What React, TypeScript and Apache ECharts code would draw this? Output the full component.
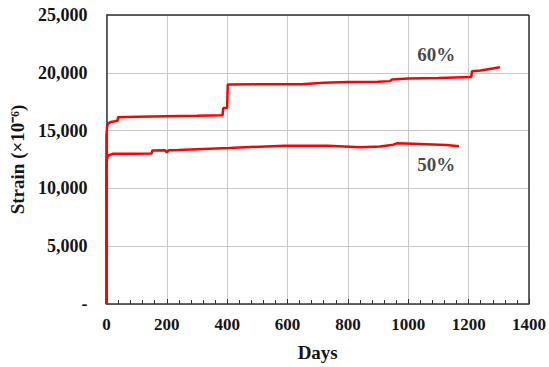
import React, { useEffect, useRef } from "react";
import * as echarts from "echarts";

const xTicks = [0, 200, 400, 600, 800, 1000, 1200, 1400];
const yTicks = [0, 5000, 10000, 15000, 20000, 25000];

const series60: [number, number][] = [
  [0, 0], [0, 14500], [2, 15300], [5, 15600], [15, 15750], [30, 15820], [37, 15850],
  [38, 16150], [100, 16200], [200, 16250], [300, 16280], [385, 16330], [387, 16950],
  [400, 16980], [402, 18980], [500, 19000], [646, 19020], [720, 19130], [800, 19200],
  [900, 19220], [940, 19280], [946, 19430], [1000, 19500], [1100, 19560], [1209, 19640],
  [1211, 20140], [1240, 20200], [1304, 20480],
];

const series50: [number, number][] = [
  [0, 0], [0, 12000], [3, 12700], [8, 12850], [20, 12990], [100, 13000], [150, 13020],
  [152, 13280], [195, 13300], [200, 13100], [206, 13300], [238, 13330], [407, 13500],
  [591, 13700], [733, 13680], [842, 13560], [907, 13615], [950, 13785], [962, 13900],
  [1016, 13860], [1126, 13757], [1168, 13644],
];

const labels = [
  { text: "60%", x: 1093, y: 21600 },
  { text: "50%", x: 1093, y: 12030 },
];

const FONT = "'Liberation Serif', 'Times New Roman', serif";
const TXT = "#151515";

export default function App() {
  const ref = useRef<HTMLDivElement>(null);
  useEffect(() => {
    if (!ref.current) return;
    const chart = echarts.init(ref.current, undefined, { renderer: "svg" });
    chart.setOption({
      animation: false,
      backgroundColor: "#ffffff",
      grid: { left: 102, right: 18, top: 15, bottom: 57 },
      xAxis: {
        type: "value",
        min: xTicks[0],
        max: xTicks[xTicks.length - 1],
        interval: 200,
        name: "Days",
        nameLocation: "middle",
        nameGap: 39,
        nameTextStyle: { fontFamily: FONT, fontWeight: "bold", fontSize: 19, color: TXT },
        axisLine: { show: true, lineStyle: { color: "#333", width: 1.5 } },
        axisTick: { show: true, inside: true, length: 5, lineStyle: { color: "#333" } },
        minorTick: { show: true, splitNumber: 5, length: 4, lineStyle: { color: "#333" } },
        axisLabel: {
          margin: 12,
          fontFamily: FONT,
          fontWeight: "bold",
          fontSize: 17,
          color: TXT,
          showMaxLabel: true,
          formatter: (v: number) => String(v),
        },
        splitLine: { show: true, lineStyle: { color: "#c8c8c8", width: 1 } },
      },
      yAxis: {
        type: "value",
        min: yTicks[0],
        max: yTicks[yTicks.length - 1],
        interval: 5000,
        name: "Strain (×10⁻⁶)",
        nameLocation: "middle",
        nameGap: 76,
        nameTextStyle: { fontFamily: FONT, fontWeight: "bold", fontSize: 19, color: TXT },
        axisLine: { show: true, lineStyle: { color: "#333", width: 1.5 } },
        axisTick: { show: false },
        axisLabel: {
          margin: 19,
          fontFamily: FONT,
          fontWeight: "bold",
          fontSize: 18,
          color: TXT,
          formatter: (v: number) => (v === 0 ? "-" : v.toLocaleString("en-US")),
        },
        splitLine: { show: true, lineStyle: { color: "#c8c8c8", width: 1 } },
      },
      series: [
        {
          type: "line",
          data: series60,
          showSymbol: false,
          lineStyle: { color: "#ff0000", width: 2.5 },
          itemStyle: { color: "#ff0000" },
          z: 3,
        },
        {
          type: "line",
          data: series50,
          showSymbol: false,
          lineStyle: { color: "#ff0000", width: 2.5 },
          itemStyle: { color: "#ff0000" },
          z: 3,
        },
        {
          type: "scatter",
          data: labels.map((l) => ({ value: [l.x, l.y], name: l.text })),
          symbolSize: 0,
          silent: true,
          label: {
            show: true,
            position: "inside",
            formatter: (p: any) => p.name,
            fontFamily: FONT,
            fontWeight: "bold",
            fontSize: 19,
            color: TXT,
          },
        },
        {
          type: "line",
          data: [],
          markLine: {
            silent: true,
            symbol: "none",
            label: { show: false },
            lineStyle: { color: "#333", width: 1.5, type: "solid" },
            data: [
              [{ coord: [0, 25000] }, { coord: [1400, 25000] }],
              [{ coord: [1400, 0] }, { coord: [1400, 25000] }],
            ],
          },
        },
      ],
    });
    return () => chart.dispose();
  }, []);
  return (
    <div
      ref={ref}
      style={{ position: "fixed", left: 0, top: 0, width: 549, height: 367, background: "#fff" }}
    />
  );
}
